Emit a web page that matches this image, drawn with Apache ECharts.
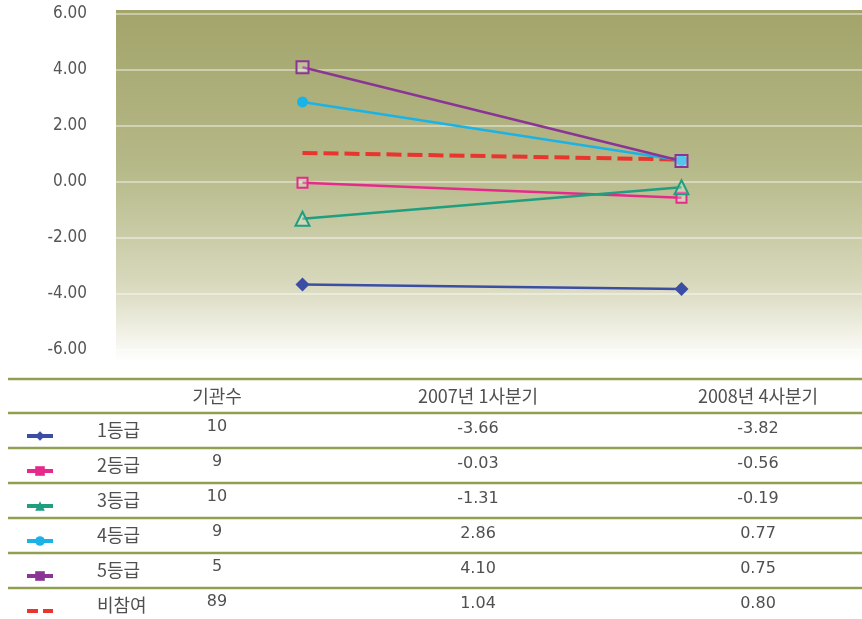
<!DOCTYPE html>
<html>
<head>
<meta charset="utf-8">
<script src="https://cdn.jsdelivr.net/npm/echarts@6/dist/echarts.min.js"></script>
<style>
  html, body { margin: 0; padding: 0; background: #ffffff; }
  #chart { width: 862px; height: 619px; }
</style>
</head>
<body>
<div id="chart"></div>
<script>
// Quarterly index by grade group
const periods = ['2007년 1사분기', '2008년 4사분기'];
const grades = ['1등급', '2등급', '3등급', '4등급', '5등급', '비참여'];
const counts = [10, 9, 10, 9, 5, 89];
const q1of2007 = [-3.66, -0.03, -1.31, 2.86, 4.10, 1.04];
const q4of2008 = [-3.82, -0.56, -0.19, 0.77, 0.75, 0.80];
const yTicks = [-6, -4, -2, 0, 2, 4, 6];
const countHeader = '기관수';

// Per-series look
const looks = [
  { color: '#3b4ea3', symbol: 'diamond', size: 14, hollow: false, dashed: false },
  { color: '#e62a8c', symbol: 'rect', size: 10, hollow: true, dashed: false },
  { color: '#1f9e80', symbol: 'triangle', size: 14, hollow: true, dashed: false },
  { color: '#1bb3e6', symbol: 'circle', size: 11, hollow: false, dashed: false },
  { color: '#8a3595', symbol: 'rect', size: 12, hollow: true, dashed: false },
  { color: '#e8352e', symbol: 'none', size: 0, hollow: false, dashed: true }
];

const chart = echarts.init(document.getElementById('chart'), null, { renderer: 'canvas' });

const series = grades.map((g, i) => {
  const lk = looks[i];
  return {
    name: g,
    type: 'line',
    data: [q1of2007[i], q4of2008[i]],
    symbol: lk.symbol,
    symbolSize: lk.size,
    showSymbol: lk.symbol !== 'none',
    z: lk.dashed ? 3 : 4,
    lineStyle: {
      color: lk.color,
      width: lk.dashed ? 4 : 2.5,
      type: lk.dashed ? [15, 6] : 'solid'
    },
    itemStyle: {
      color: lk.hollow ? 'rgba(255,255,255,0.25)' : lk.color,
      borderColor: lk.color,
      borderWidth: lk.hollow ? 2 : 0
    },
    emphasis: { disabled: true },
    animation: false
  };
});

// Table layout
const ruleYs = [379, 413, 448, 483, 518, 553, 588];
const headerY = 396;
const colName = 97, colCount = 217, colQ1 = 478, colQ4 = 758;
const korFont = '"Noto Sans CJK KR", "Noto Sans", sans-serif';
const numFont = '"DejaVu Sans", sans-serif';
const textColor = '#505050';

const graphics = [];

// plot background
graphics.push({
  type: 'rect',
  z: -10,
  silent: true,
  shape: { x: 116, y: 10, width: 746, height: 352 },
  style: {
    fill: new echarts.graphic.LinearGradient(0, 0, 0, 1, [
      { offset: 0, color: '#a2a46a' },
      { offset: 0.45, color: '#b6b988' },
      { offset: 0.78, color: '#d8d9bd' },
      { offset: 1, color: '#ffffff' }
    ])
  }
});

// table rules
ruleYs.forEach(y => {
  graphics.push({
    type: 'line', silent: true,
    shape: { x1: 8, y1: y, x2: 862, y2: y },
    style: { stroke: '#8fa050', lineWidth: 2.5 }
  });
});

function txt(x, y, s, font, size, align) {
  return {
    type: 'text', silent: true,
    x: x, y: y,
    style: {
      text: s, fill: textColor, font: size + 'px ' + font,
      align: align || 'center', verticalAlign: 'middle'
    }
  };
}

graphics.push(txt(colCount, headerY, countHeader, korFont, 18));
graphics.push(txt(colQ1, headerY, periods[0], korFont, 18));
graphics.push(txt(colQ4, headerY, periods[1], korFont, 18));

grades.forEach((g, i) => {
  const y = ruleYs[i + 1] + 16;
  graphics.push(txt(colName, y + 1, g, korFont, 18, 'left'));
  graphics.push(txt(colCount, y - 2, String(counts[i]), numFont, 16));
  graphics.push(txt(colQ1, y, q1of2007[i].toFixed(2), numFont, 16));
  graphics.push(txt(colQ4, y, q4of2008[i].toFixed(2), numFont, 16));
});

// one legend key per table row, in the row's first column
const legends = grades.map((g, i) => ({
  orient: 'horizontal',
  left: 25,
  top: ruleYs[i + 1] + 23 - 6,
  padding: 0,
  itemWidth: 26,
  itemHeight: 12,
  selectedMode: false,
  formatter: () => '',
  data: [{
    name: g,
    itemStyle: looks[i].dashed
      ? { opacity: 0 }
      : { color: looks[i].color, borderWidth: 0 },
    lineStyle: looks[i].dashed ? { width: 4, type: [11, 5] } : { width: 4 }
  }],
  textStyle: { fontSize: 1 }
}));

const option = {
  animation: false,
  backgroundColor: '#ffffff',
  grid: { left: 113, top: 14, width: 758, height: 336, containLabel: false, outerBoundsMode: 'none' },
  xAxis: {
    type: 'category',
    data: periods,
    boundaryGap: true,
    axisLine: { show: false },
    axisTick: { show: false },
    axisLabel: { show: false },
    splitLine: { show: false }
  },
  yAxis: {
    type: 'value',
    min: yTicks[0],
    max: yTicks[yTicks.length - 1],
    interval: 2,
    axisLine: { show: false },
    axisTick: { show: false },
    axisLabel: {
      margin: 26,
      color: '#555555',
      fontSize: 17,
      fontFamily: '"Liberation Sans Narrow", "DejaVu Sans Condensed", sans-serif',
      formatter: v => v.toFixed(2)
    },
    splitLine: { lineStyle: { color: 'rgba(255,255,255,0.55)', width: 1.5 } }
  },
  legend: legends,
  graphic: graphics,
  series: series
};

chart.setOption(option);
</script>
</body>
</html>
